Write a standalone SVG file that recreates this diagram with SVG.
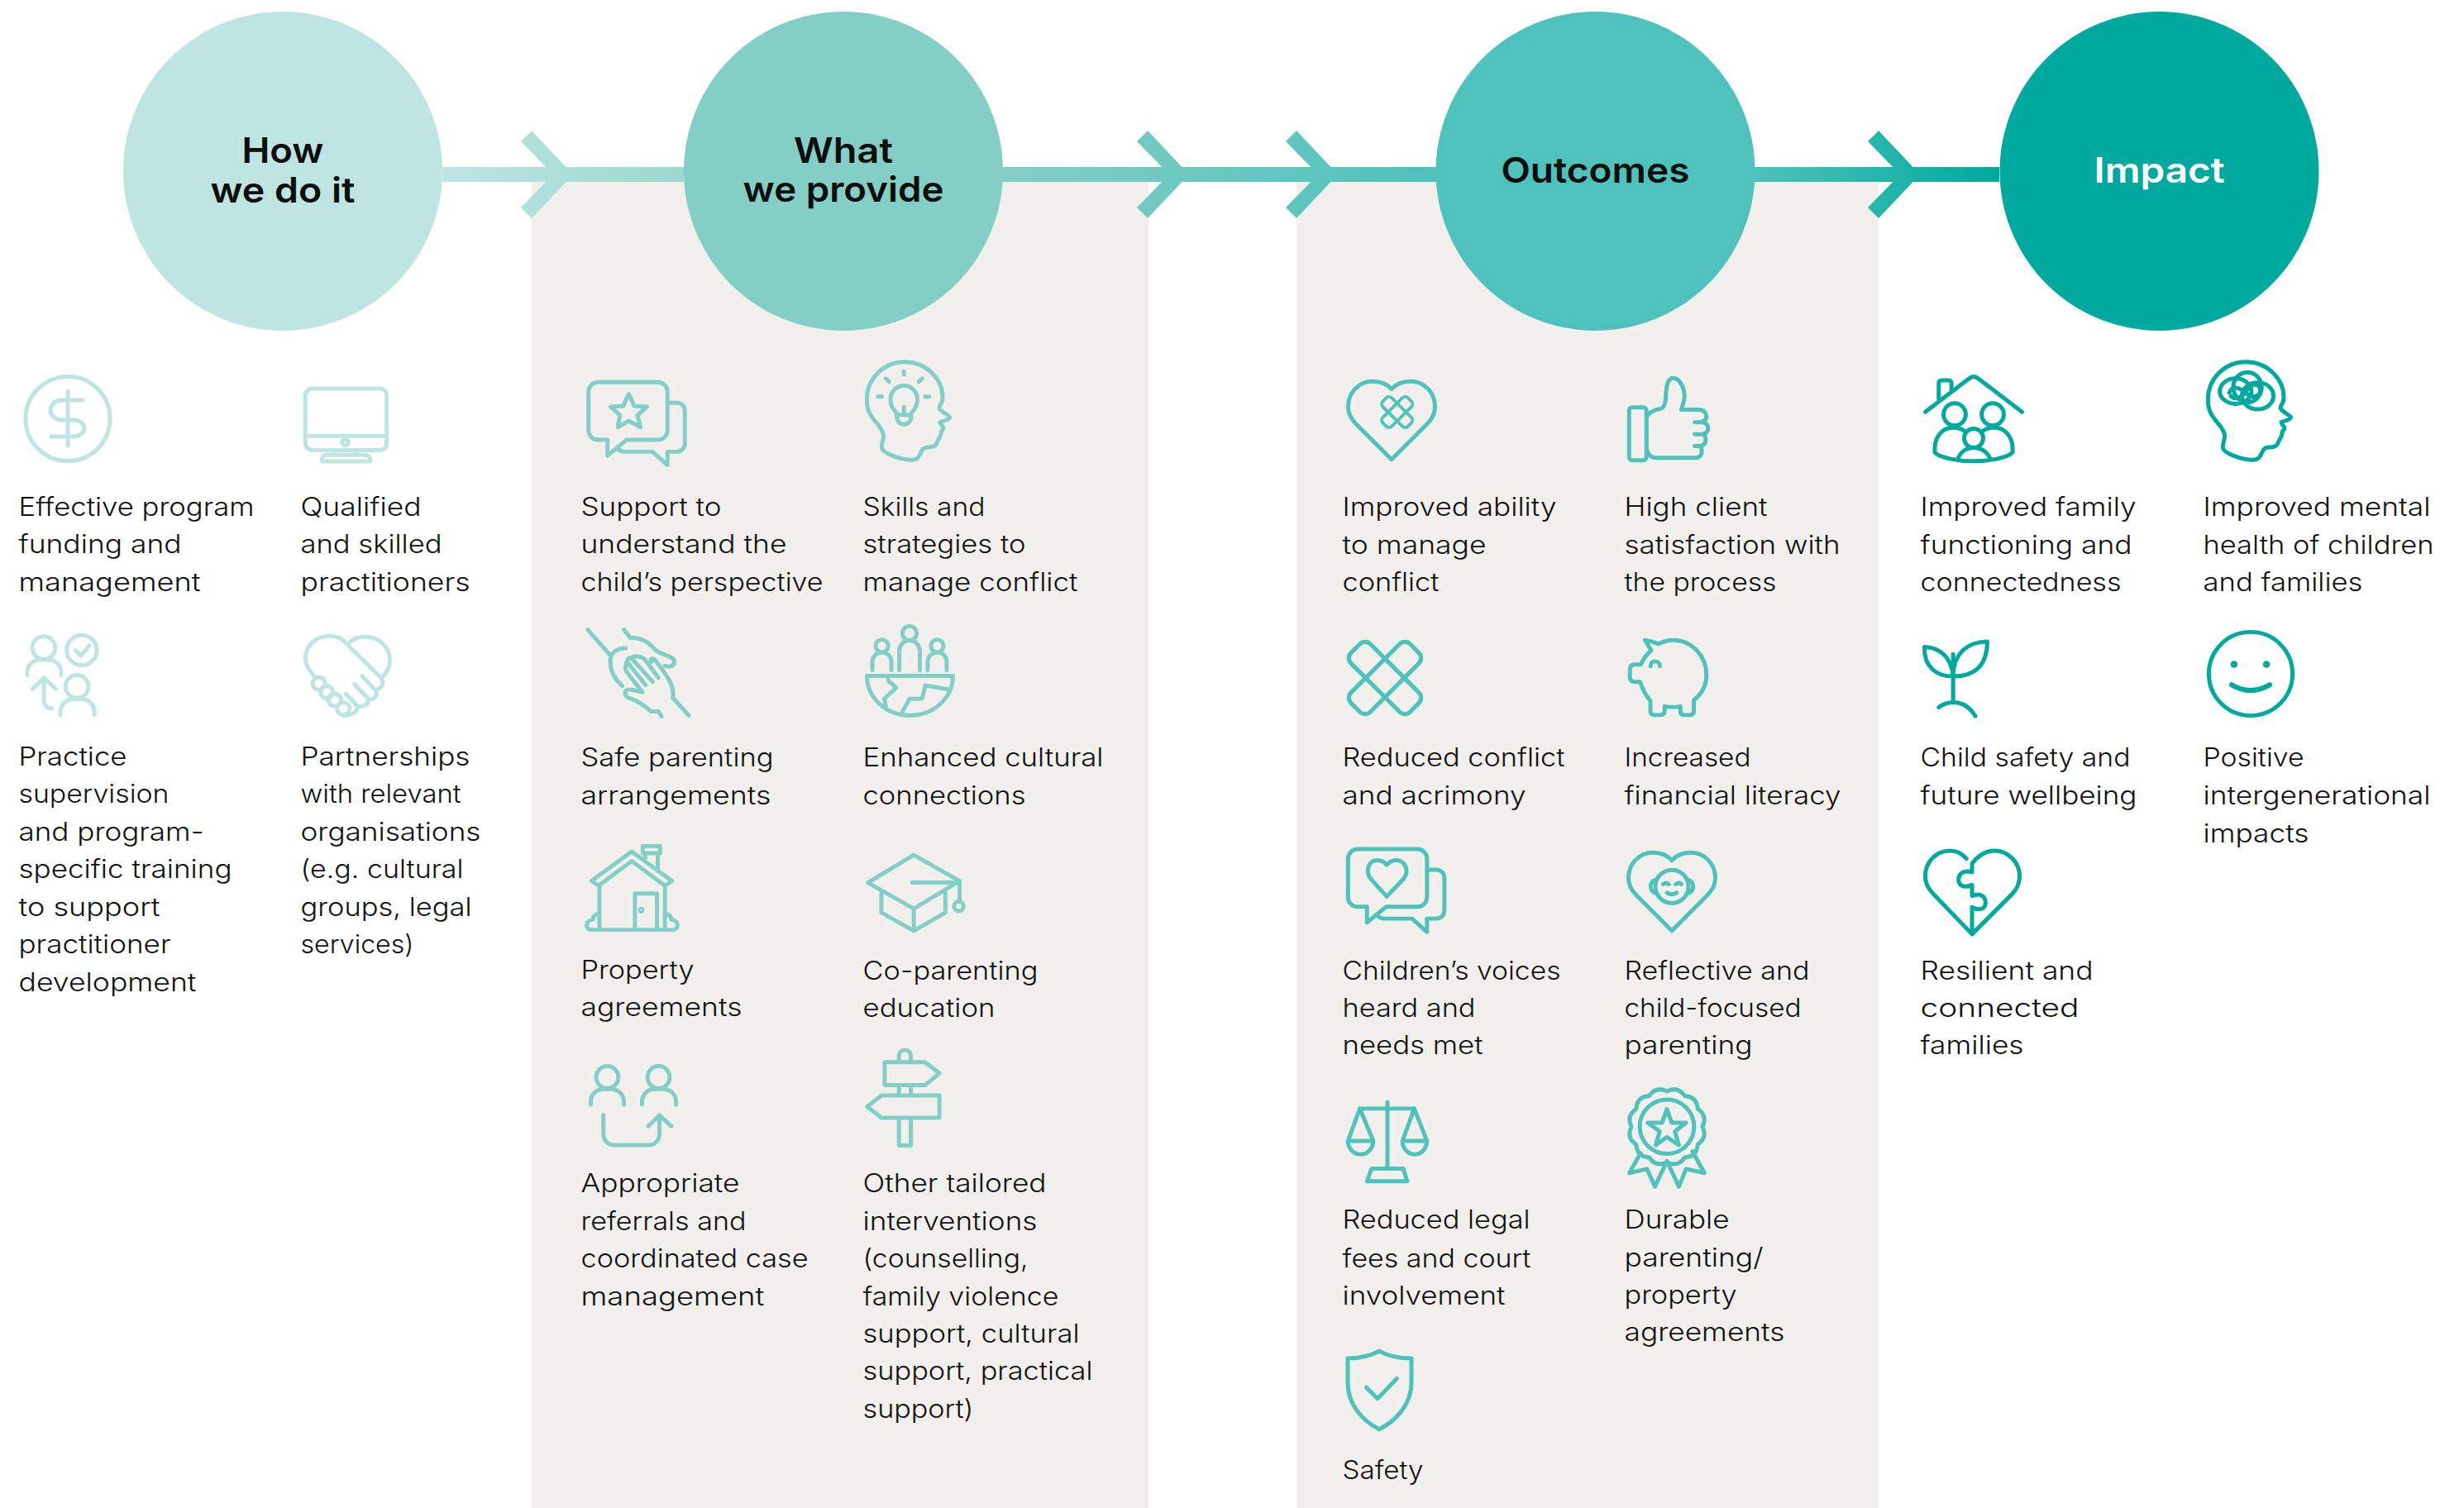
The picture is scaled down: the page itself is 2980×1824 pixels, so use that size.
<svg xmlns="http://www.w3.org/2000/svg" xmlns:xlink="http://www.w3.org/1999/xlink" width="2980" height="1824" viewBox="0 0 2980 1824">
<style>
.t{font-family:Inter,"Liberation Sans",sans-serif;font-size:31px;font-weight:300;fill:#111;stroke:none;transform:translate(-1.5px,1.5px)}
.h{font-family:Inter,"Liberation Sans",sans-serif;font-size:42.5px;font-weight:600;fill:#0d0d0d;text-anchor:middle}
.ic{fill:none;stroke-width:5.2;stroke-linecap:round;stroke-linejoin:round}
.i1{stroke:#BEE5E1}.i2{stroke:#83CEC5}.i3{stroke:#4EC2BB}.i4{stroke:#00A99D}
.panel{fill:#F2F0ED}
</style>
<defs>
<linearGradient id="g1" gradientUnits="userSpaceOnUse" x1="535" y1="0" x2="827" y2="0"><stop offset="0" stop-color="#BEE5E1"/><stop offset="1" stop-color="#9BD8D1"/></linearGradient>
<linearGradient id="g2" gradientUnits="userSpaceOnUse" x1="1212" y1="0" x2="1737" y2="0"><stop offset="0" stop-color="#83CEC5"/><stop offset="1" stop-color="#4EC2BB"/></linearGradient>
<linearGradient id="g3" gradientUnits="userSpaceOnUse" x1="2122" y1="0" x2="2418" y2="0"><stop offset="0" stop-color="#4EC2BB"/><stop offset="1" stop-color="#00A99D"/></linearGradient>
<path id="head" d="M1067,527 C1064,512 1046,508 1046,483 C1046,456 1067,435 1094,435 C1121,435 1142,456 1142,480 C1142,490 1137,488 1138,494 C1141,499 1151,503 1151,505 C1150,509 1141,510 1139,511 C1138,514 1143,516 1143,519 C1143,522 1139,522 1140,525 C1140,530 1136,533 1134,539 C1131,545 1123,542 1119,544 C1113,546 1115,559 1103,559 C1090,559 1066,551 1065,544 C1064,538 1068,533 1067,527 Z"/>
<path id="heart" d="M1683,469 C1677,462 1668,459 1659,459 C1641,459 1628,474 1628,491 C1628,500 1632,507 1638,513 L1683,558 L1728,513 C1734,507 1738,500 1738,491 C1738,474 1725,459 1707,459 C1698,459 1689,462 1683,469 Z"/>
<path id="chat" d="M721,460 H797 a12,12 0 0 1 12,12 V521 a12,12 0 0 1 -12,12 H757 L733,553 V533 H721 a12,12 0 0 1 -12,-12 V472 a12,12 0 0 1 12,-12 Z M810,486 H821 a10,10 0 0 1 10,10 V538 a10,10 0 0 1 -10,10 H809 V565 L790,548 H755 q-6,0 -9,-4"/>
</defs>

<g id="panels">
<rect class="panel" x="643" y="220" width="746" height="1604"/>
<rect class="panel" x="1568" y="220" width="704" height="1604"/>
</g>

<g id="connectors">
<rect x="535" y="202" width="292" height="18" fill="url(#g1)"/>
<path d="M643,158 L693,211 L643,264 L630,251 L669,211 L630,171 Z" fill="url(#g1)"/>
<rect x="1212" y="202" width="525" height="18" fill="url(#g2)"/>
<path d="M1388,158 L1438,211 L1388,264 L1375,251 L1414,211 L1375,171 Z" fill="url(#g2)"/>
<path d="M1568,158 L1618,211 L1568,264 L1555,251 L1594,211 L1555,171 Z" fill="url(#g2)"/>
<rect x="2122" y="202" width="296" height="18" fill="url(#g3)"/>
<path d="M2272,158 L2322,211 L2272,264 L2259,251 L2298,211 L2259,171 Z" fill="url(#g3)"/>
</g>

<g id="stage-how"><circle cx="342" cy="207" r="193" fill="#BEE5E1"/><text class="h" x="342" y="197" textLength="99" lengthAdjust="spacingAndGlyphs">How</text><text class="h" x="342" y="245" textLength="175" lengthAdjust="spacingAndGlyphs">we do it</text></g>
<g id="stage-what"><circle cx="1020" cy="207" r="193" fill="#83CEC5"/><text class="h" x="1020" y="197" textLength="120" lengthAdjust="spacingAndGlyphs">What</text><text class="h" x="1020" y="244" textLength="243" lengthAdjust="spacingAndGlyphs">we provide</text></g>
<g id="stage-outcomes"><circle cx="1929.500" cy="207" r="193" fill="#4EC2BB"/><text class="h" x="1929.500" y="221" textLength="228" lengthAdjust="spacingAndGlyphs">Outcomes</text></g>
<g id="stage-impact"><circle cx="2611.500" cy="207" r="193" fill="#00A99D"/><text class="h" x="2611.500" y="221" textLength="158" lengthAdjust="spacingAndGlyphs" style="fill:#fff">Impact</text></g>

<!-- how -->
<g id="funding"><g class="ic i1" transform="translate(82 506.500) scale(.955) translate(-82 -506.500)"><circle cx="82" cy="506.500" r="53.500"/><path d="M82,472 V541 M101,483 H74 A14,12.500 0 0 0 74,508 H89 A14,10.500 0 0 1 89,529 H61"/></g>
<text class="t" x="24" y="622" textLength="285" lengthAdjust="spacingAndGlyphs">Effective program</text><text class="t" x="24" y="667" textLength="197" lengthAdjust="spacingAndGlyphs">funding and</text><text class="t" x="24" y="713" textLength="220" lengthAdjust="spacingAndGlyphs">management</text></g>
<g id="qualified"><g class="ic i1" transform="translate(418 514) scale(.955) translate(-418 -514)"><rect x="367" y="468" width="103" height="78" rx="9"/><path d="M367,528 H470 M405,546 l-2,6 M431,546 l2,6 M388,560 v-2 q0,-6 7,-6 h47 q7,0 7,6 v2 z"/><circle cx="417.500" cy="536" r="4"/></g>
<text class="t" x="365" y="622" textLength="146" lengthAdjust="spacingAndGlyphs">Qualified</text><text class="t" x="365" y="667" textLength="171" lengthAdjust="spacingAndGlyphs">and skilled</text><text class="t" x="365" y="713" textLength="205" lengthAdjust="spacingAndGlyphs">practitioners</text></g>
<g id="supervision"><g class="ic i1" transform="translate(74 817) scale(.955) translate(-74 -817)"><circle cx="52" cy="782" r="14.500"/><path d="M31,817 v-4 a16,16 0 0 1 16,-16 h11 a16,16 0 0 1 16,16 v4"/><circle cx="100" cy="785" r="19"/><path d="M92,785 l7,7 l11,-13 M62,859 a10,10 0 0 1 -10,-10 V821 M38,834 L52,820 L67,834"/><circle cx="94" cy="831" r="14.500"/><path d="M73,867 v-4 a16,16 0 0 1 16,-16 h11 a16,16 0 0 1 16,16 v4"/></g>
<text class="t" x="24" y="924" textLength="131" lengthAdjust="spacingAndGlyphs">Practice</text><text class="t" x="24" y="969.500" textLength="182" lengthAdjust="spacingAndGlyphs">supervision</text><text class="t" x="24" y="1015" textLength="224" lengthAdjust="spacingAndGlyphs">and program-</text><text class="t" x="24" y="1060" textLength="258" lengthAdjust="spacingAndGlyphs">specific training</text><text class="t" x="24" y="1106" textLength="171" lengthAdjust="spacingAndGlyphs">to support</text><text class="t" x="24" y="1151" textLength="184" lengthAdjust="spacingAndGlyphs">practitioner</text><text class="t" x="24" y="1197" textLength="215" lengthAdjust="spacingAndGlyphs">development</text></g>
<g id="partnerships"><g class="ic i1" transform="translate(420 817) scale(.955) translate(-420 -817)"><path d="M378,818 C370,808 367,803 367,795 C367,778 381,767 398,767 C408,767 415,771 420,778 L463,820 M423,775 C428,770 435,768 443,768 C460,768 474,781 474,798 C474,806 470,814 463,820 M463,820 c4,5 2,13 -7,16 M456,836 c3,7 -2,12 -10,11 M446,846 c2,6 -3,11 -13,10 M433,856 c1,5 -6,11 -17,12 M439,818 L456,836 M429,828 L446,846 M418,840 L433,856"/><circle cx="384" cy="827" r="8"/><circle cx="394" cy="838" r="8"/><circle cx="404" cy="848" r="8"/><circle cx="415" cy="859" r="8"/></g>
<text class="t" x="365" y="924" textLength="205" lengthAdjust="spacingAndGlyphs">Partnerships</text><text class="t" x="365" y="969.500" textLength="194" lengthAdjust="spacingAndGlyphs">with relevant</text><text class="t" x="365" y="1015" textLength="218" lengthAdjust="spacingAndGlyphs">organisations</text><text class="t" x="365" y="1060" textLength="197" lengthAdjust="spacingAndGlyphs">(e.g. cultural</text><text class="t" x="365" y="1106" textLength="207" lengthAdjust="spacingAndGlyphs">groups, legal</text><text class="t" x="365" y="1151" textLength="137" lengthAdjust="spacingAndGlyphs">services)</text></g>

<!-- what -->
<g id="support"><g class="ic i2" transform="translate(770 512) scale(.955) translate(-770 -512)"><use href="#chat"/><path d="M760,475 L767,490 L783,491 L771,502 L775,517 L760,509 L746,517 L749,502 L737,491 L753,490 Z"/></g>
<text class="t" x="704" y="622" textLength="170" lengthAdjust="spacingAndGlyphs">Support to</text><text class="t" x="704" y="667" textLength="249" lengthAdjust="spacingAndGlyphs">understand the</text><text class="t" x="704" y="713" textLength="293" lengthAdjust="spacingAndGlyphs">child’s perspective</text></g>
<g id="skills"><g class="ic i2" transform="translate(1098 497) scale(.955) translate(-1098 -497)"><use href="#head"/><path d="M1085,502 C1080,495 1076,492 1076,482 a17,17 0 0 1 34,0 c0,10 -4,13 -9,20 z M1084,502 v3 a9,9 0 0 0 18,0 v-3 M1093,492 v10 M1093,447 v4 M1070,456 l4,4 M1116,456 l-4,4 M1060,479 h5 M1120,479 h5"/></g>
<text class="t" x="1045" y="622" textLength="148" lengthAdjust="spacingAndGlyphs">Skills and</text><text class="t" x="1045" y="667" textLength="197" lengthAdjust="spacingAndGlyphs">strategies to</text><text class="t" x="1045" y="713" textLength="260" lengthAdjust="spacingAndGlyphs">manage conflict</text></g>
<g id="safe-parenting"><g class="ic i2" transform="translate(772 814) scale(.97) translate(-772 -814)"><path d="M709,760 L737,792 M756,783 C746,783 737,788 737,800 C737,812 743,822 752,830 M754,760 L762,770 C775,770 783,774 793,785 C800,792 817,792 817,800 C817,806 810,807 805,805 M835,867 L815,845 C817,830 810,820 793,798 C790,795 786,796 788,800 M780,797 L797,820 M763,795 L790,825 M758,800 L781,829 M757,812 L777,838 C770,836 763,834 758,835 C754,838 755,843 760,845 C770,848 778,853 788,862 H797 L801,868 M758,800 C755,805 755,808 757,812 M763,795 C760,795 758,797 758,800 M780,797 C776,793 768,792 763,795"/></g>
<text class="t" x="704" y="925" textLength="233" lengthAdjust="spacingAndGlyphs">Safe parenting</text><text class="t" x="704" y="971" textLength="230" lengthAdjust="spacingAndGlyphs">arrangements</text></g>
<g id="cultural"><g class="ic i2" transform="translate(1100 808) scale(.955) translate(-1100 -808)"><path d="M1046,818 H1155 A54.500,50 0 0 1 1046,818 Z M1073,822 Q1073,826 1077,827 L1083,833 L1068,847 L1070,857 M1090,865 L1100,847 H1113 Q1117,847 1117,843 L1120,830 L1148,835"/><circle cx="1100" cy="764" r="9"/><path d="M1087,811 V786 a13,13 0 0 1 26,0 V811"/><circle cx="1065" cy="780" r="8"/><path d="M1053,811 V800 a12,12 0 0 1 24,0 V811"/><circle cx="1135" cy="780" r="8"/><path d="M1123,811 V800 a12,12 0 0 1 24,0 V811"/></g>
<text class="t" x="1045" y="925" textLength="291" lengthAdjust="spacingAndGlyphs">Enhanced cultural</text><text class="t" x="1045" y="971" textLength="197" lengthAdjust="spacingAndGlyphs">connections</text></g>
<g id="property"><g class="ic i2" transform="translate(764 1074) scale(.955) translate(-764 -1074)"><path d="M764,1028 L815,1065 L806,1071 L764,1040 L722,1071 L713,1065 Z M723,1071 V1126 M806,1071 V1126 M768,1126 V1081 H796 V1126 M781,1038 V1030 M797,1050 V1030 M778,1021 H800 V1030 H778 Z M722,1107 q-7,1 -7,7 q-8,2 -8,7 q0,6 8,6 H814 q8,0 8,-6 q0,-5 -8,-7 q0,-6 -7,-7"/><circle cx="776" cy="1102" r="1.500"/></g>
<text class="t" x="704" y="1182" textLength="137" lengthAdjust="spacingAndGlyphs">Property</text><text class="t" x="704" y="1227" textLength="195" lengthAdjust="spacingAndGlyphs">agreements</text></g>
<g id="co-parenting"><g class="ic i2" transform="translate(1108 1080) scale(.955) translate(-1108 -1080)"><path d="M1105,1032 L1163,1065 L1105,1100 L1047,1067 Z M1064,1080 V1105 L1105,1128 L1145,1105 V1080 M1105,1100 V1128 M1103,1067 H1163 V1089"/><circle cx="1162" cy="1097" r="6"/></g>
<text class="t" x="1045" y="1183" textLength="212" lengthAdjust="spacingAndGlyphs">Co-parenting</text><text class="t" x="1045" y="1228" textLength="160" lengthAdjust="spacingAndGlyphs">education</text></g>
<g id="referrals"><g class="ic i2" transform="translate(766 1344) scale(.955) translate(-766 -1344)"><circle cx="733" cy="1301" r="14"/><circle cx="798" cy="1301" r="14"/><path d="M712,1336 v-4 a16,16 0 0 1 16,-16 h10 a16,16 0 0 1 16,16 v4 M777,1336 v-4 a16,16 0 0 1 16,-16 h11 a16,16 0 0 1 16,16 v4 M728,1349 V1373 a14,14 0 0 0 14,14 H785 a14,14 0 0 0 14,-14 V1349 M785,1363 L799,1349 L814,1363"/></g>
<text class="t" x="704" y="1440" textLength="192" lengthAdjust="spacingAndGlyphs">Appropriate</text><text class="t" x="704" y="1486" textLength="200" lengthAdjust="spacingAndGlyphs">referrals and</text><text class="t" x="704" y="1531" textLength="275" lengthAdjust="spacingAndGlyphs">coordinated case</text><text class="t" x="704" y="1577" textLength="222" lengthAdjust="spacingAndGlyphs">management</text></g>
<g id="other"><g class="ic i2" transform="translate(1092 1327) scale(.96) translate(-1092 -1327)"><path d="M1087,1283 V1275 a7.500,7.500 0 0 1 15,0 V1283 M1087,1312 V1325 M1102,1312 V1325 M1087,1353 V1388 H1102 V1353 M1069,1283 H1120 L1138,1297 L1120,1312 H1069 Z M1138,1325 H1065 L1047,1339 L1065,1353 H1138 Z"/></g>
<text class="t" x="1045" y="1440" textLength="222" lengthAdjust="spacingAndGlyphs">Other tailored</text><text class="t" x="1045" y="1486" textLength="211" lengthAdjust="spacingAndGlyphs">interventions</text><text class="t" x="1045" y="1531" textLength="200" lengthAdjust="spacingAndGlyphs">(counselling,</text><text class="t" x="1045" y="1577" textLength="237" lengthAdjust="spacingAndGlyphs">family violence</text><text class="t" x="1045" y="1622" textLength="262" lengthAdjust="spacingAndGlyphs">support, cultural</text><text class="t" x="1045" y="1667" textLength="278" lengthAdjust="spacingAndGlyphs">support, practical</text><text class="t" x="1045" y="1713" textLength="134" lengthAdjust="spacingAndGlyphs">support)</text></g>

<!-- outcomes -->
<g id="ability"><g class="ic i3" transform="translate(1683 508) scale(.955) translate(-1683 -508)"><use href="#heart"/><g transform="translate(1690,498) rotate(45)" stroke-width="4"><rect x="-22.500" y="-8" width="45" height="16" rx="5"/><rect x="-8" y="-22.500" width="16" height="45" rx="5"/></g></g>
<text class="t" x="1625" y="622" textLength="259" lengthAdjust="spacingAndGlyphs">Improved ability</text><text class="t" x="1625" y="668" textLength="174" lengthAdjust="spacingAndGlyphs">to manage</text><text class="t" x="1625" y="713" textLength="117" lengthAdjust="spacingAndGlyphs">conflict</text></g>
<g id="satisfaction"><g class="ic i3" transform="translate(2018 507) scale(.955) translate(-2018 -507)"><rect x="1968" y="492" width="22" height="67" rx="4"/><path d="M1991,503 C1995,497 2001,495 2007,494 C2016,492 2014,478 2015,470 C2016,461 2019,455 2024,455 C2031,455 2037,465 2038,475 C2039,483 2036,488 2034,495 H2057 C2063,495 2066,500 2066,504 C2066,508 2062,511 2051,511 H2060 C2066,511 2068,515 2068,519 C2068,523 2064,526 2060,526 H2051 M2060,526 C2064,526 2065,530 2065,533 C2065,538 2062,541 2057,541 H2051 M2057,541 C2060,542 2060,545 2060,548 C2060,553 2057,556 2052,556 H2003 C1997,556 1993,553 1991,547"/></g>
<text class="t" x="1966" y="622" textLength="173" lengthAdjust="spacingAndGlyphs">High client</text><text class="t" x="1966" y="668" textLength="261" lengthAdjust="spacingAndGlyphs">satisfaction with</text><text class="t" x="1966" y="713" textLength="184" lengthAdjust="spacingAndGlyphs">the process</text></g>
<g id="reduced-conflict"><g class="ic i3"><g transform="translate(1675,820) rotate(45)"><rect x="-50.500" y="-16.500" width="101" height="33" rx="9"/><rect x="-16.500" y="-50.500" width="33" height="101" rx="9"/></g></g>
<text class="t" x="1625" y="925" textLength="269" lengthAdjust="spacingAndGlyphs">Reduced conflict</text><text class="t" x="1625" y="971" textLength="222" lengthAdjust="spacingAndGlyphs">and acrimony</text></g>
<g id="financial"><g class="ic i3" transform="translate(2018 820) scale(.955) translate(-2018 -820)"><path d="M2005,777 C2011,774 2017,772 2023,772 C2047,772 2066,792 2066,816 C2066,829 2060,840 2050,848 V862 Q2050,867 2045,867 H2038 Q2033,867 2033,862 V856 Q2023,858 2013,856 V862 Q2013,867 2008,867 H2000 Q1995,867 1995,862 V849 C1990,843 1985,835 1982,825 H1975 Q1969,825 1969,818 V810 Q1969,803 1975,803 H1983 C1986,796 1990,790 1996,785 L1988,772 Q1997,773 2005,777 Z M1995,805 a6,6 0 0 1 12,0"/></g>
<text class="t" x="1966" y="925" textLength="153" lengthAdjust="spacingAndGlyphs">Increased</text><text class="t" x="1966" y="971" textLength="262" lengthAdjust="spacingAndGlyphs">financial literacy</text></g>
<g id="voices"><g class="ic i3" transform="translate(1680 1071) scale(.955) translate(-1680 -1071)"><use href="#chat" transform="translate(919,565)"/><path d="M1677,1045 C1674,1041 1669,1039 1665,1039 C1657,1039 1653,1046 1653,1053 C1653,1057 1655,1061 1658,1064 L1677,1085 L1697,1064 C1700,1061 1702,1057 1702,1053 C1702,1046 1697,1039 1689,1039 C1685,1039 1680,1041 1677,1045 Z"/></g>
<text class="t" x="1625" y="1183" textLength="264" lengthAdjust="spacingAndGlyphs">Children’s voices</text><text class="t" x="1625" y="1228" textLength="161" lengthAdjust="spacingAndGlyphs">heard and</text><text class="t" x="1625" y="1273" textLength="170" lengthAdjust="spacingAndGlyphs">needs met</text></g>
<g id="reflective"><g class="ic i3" transform="translate(2022 1078) scale(.955) translate(-2022 -1078)"><use href="#heart" transform="translate(339,570)"/><circle cx="2022" cy="1072" r="21"/><path d="M2003,1063 q-8,2 -8,9 q0,7 8,9 M2041,1063 q8,2 8,9 q0,7 -8,9 M2011,1069 q4,-3 7,0 M2027,1069 q4,-3 7,0 M2016,1080 q6,4 12,0"/></g>
<text class="t" x="1966" y="1183" textLength="224" lengthAdjust="spacingAndGlyphs">Reflective and</text><text class="t" x="1966" y="1228" textLength="214" lengthAdjust="spacingAndGlyphs">child-focused</text><text class="t" x="1966" y="1273" textLength="155" lengthAdjust="spacingAndGlyphs">parenting</text></g>
<g id="legal"><g class="ic i3" transform="translate(1678 1381) scale(.955) translate(-1678 -1381)"><path d="M1678,1331 V1415 M1643,1339 H1712 M1643,1339 L1628,1380 M1643,1339 L1660,1380 M1628,1380 H1660 A16,17 0 0 1 1628,1380 Z M1712,1339 L1697,1380 M1712,1339 L1728,1380 M1697,1380 H1728 A15.500,17 0 0 1 1697,1380 Z M1658,1415 H1698 L1703,1431 H1652 Z"/></g>
<text class="t" x="1625" y="1484" textLength="227" lengthAdjust="spacingAndGlyphs">Reduced legal</text><text class="t" x="1625" y="1531" textLength="228" lengthAdjust="spacingAndGlyphs">fees and court</text><text class="t" x="1625" y="1576" textLength="197" lengthAdjust="spacingAndGlyphs">involvement</text></g>
<g id="durable"><g class="ic i3" transform="translate(2016 1384) scale(.965) translate(-2016 -1384)"><path transform="translate(2016,1362) rotate(15)" d="M43,11.500 Q46,26.500 31.500,31.500 Q26.500,46 11.500,43 Q0,53 -11.500,43 Q-26.500,46 -31.500,31.500 Q-46,26.500 -43,11.500 Q-53,0 -43,-11.500 Q-46,-26.500 -31.500,-31.500 Q-26.500,-46 -11.500,-43 Q0,-53 11.500,-43 Q26.500,-46 31.500,-31.500 Q46,-26.500 43,-11.500 Q53,0 43,11.500 Z"/><circle cx="2016" cy="1362" r="34"/><path d="M2016,1340 L2022,1357 L2040,1357 L2026,1368 L2031,1385 L2016,1375 L2002,1385 L2007,1368 L1992,1357 L2010,1357 Z M1983,1395 L1969,1420 L1991,1415 L2001,1437 L2016,1405 L2031,1437 L2040,1415 L2063,1420 L2048,1393"/></g>
<text class="t" x="1966" y="1484" textLength="127" lengthAdjust="spacingAndGlyphs">Durable</text><text class="t" x="1966" y="1530" textLength="168" lengthAdjust="spacingAndGlyphs">parenting/</text><text class="t" x="1966" y="1575" textLength="136" lengthAdjust="spacingAndGlyphs">property</text><text class="t" x="1966" y="1620" textLength="194" lengthAdjust="spacingAndGlyphs">agreements</text></g>
<g id="safety"><g class="ic i3" transform="translate(1668 1681) scale(.975) translate(-1668 -1681)"><path d="M1668,1633 C1655,1640 1642,1642 1629,1642 V1672 C1629,1700 1648,1720 1668,1730 C1688,1720 1708,1700 1708,1672 V1642 C1695,1642 1681,1640 1668,1633 Z M1652,1678 L1666,1692 L1690,1667"/></g>
<text class="t" x="1625" y="1787" textLength="98" lengthAdjust="spacingAndGlyphs">Safety</text></g>

<!-- impact -->
<g id="family"><g class="ic i4" transform="translate(2387 506) scale(.96) translate(-2387 -506)"><path d="M2326,498 L2381,456 Q2387,451 2393,456 L2448,498 M2343,482 V462 Q2343,458 2347,458 H2355 Q2359,458 2359,462 V470"/><circle cx="2363" cy="501" r="14"/><circle cx="2411" cy="501" r="14"/><circle cx="2387" cy="531" r="12"/><path d="M2358,518 C2347,519 2338,530 2338,544 V549 C2345,556 2368,560 2387,560 C2406,560 2429,556 2436,549 V544 C2436,530 2427,519 2416,518 M2358,518 C2365,517 2372,519 2377,523 M2416,518 C2409,517 2402,519 2397,523 M2368,555 C2371,548 2378,543 2387,543 C2396,543 2403,548 2407,555"/></g>
<text class="t" x="2324" y="622" textLength="261" lengthAdjust="spacingAndGlyphs">Improved family</text><text class="t" x="2324" y="668" textLength="256" lengthAdjust="spacingAndGlyphs">functioning and</text><text class="t" x="2324" y="713" textLength="243" lengthAdjust="spacingAndGlyphs">connectedness</text></g>
<g id="mental"><g class="ic i4" transform="translate(2720 497) scale(.955) translate(-2720 -497)"><use href="#head" transform="translate(1622,0)"/><ellipse cx="2703" cy="472" rx="20" ry="16"/><ellipse cx="2718" cy="467" rx="18" ry="19"/><ellipse cx="2731" cy="478" rx="20" ry="17"/><path d="M2695,474 C2700,462 2712,470 2718,476 C2724,482 2736,478 2734,469 C2732,460 2722,464 2718,470 C2712,480 2702,484 2697,478"/></g>
<text class="t" x="2666" y="622" textLength="275" lengthAdjust="spacingAndGlyphs">Improved mental</text><text class="t" x="2666" y="668" textLength="279" lengthAdjust="spacingAndGlyphs">health of children</text><text class="t" x="2666" y="713" textLength="193" lengthAdjust="spacingAndGlyphs">and families</text></g>
<g id="child-safety"><g class="ic i4" transform="translate(2365 821) scale(.96) translate(-2365 -821)"><path d="M2326,781 C2345,782 2360,793 2362,818 C2340,818 2325,805 2326,781 Z M2362,818 C2385,818 2405,808 2405,774 C2380,775 2364,788 2362,815 M2362,790 V850 M2344,857 C2358,847 2378,848 2390,868"/></g>
<text class="t" x="2324" y="925" textLength="254" lengthAdjust="spacingAndGlyphs">Child safety and</text><text class="t" x="2324" y="971" textLength="262" lengthAdjust="spacingAndGlyphs">future wellbeing</text></g>
<g id="intergenerational"><g class="ic i4" transform="translate(2722 815) scale(.955) translate(-2722 -815)"><circle cx="2722" cy="815" r="53"/><circle cx="2701" cy="803" r="2" stroke-width="5"/><circle cx="2742" cy="803" r="2" stroke-width="5"/><path d="M2698,829 Q2722,843 2746,829" stroke-width="6.500"/></g>
<text class="t" x="2666" y="925" textLength="122" lengthAdjust="spacingAndGlyphs">Positive</text><text class="t" x="2666" y="971" textLength="275" lengthAdjust="spacingAndGlyphs">intergenerational</text><text class="t" x="2666" y="1017" textLength="128" lengthAdjust="spacingAndGlyphs">impacts</text></g>
<g id="resilient"><g class="ic i4" transform="translate(2385 1079) scale(.96) translate(-2385 -1079)"><path d="M2378,1037 C2372,1030 2365,1027 2357,1027 C2339,1027 2326,1042 2326,1059 C2326,1068 2330,1075 2336,1081 L2385,1132 L2435,1082 C2441,1076 2445,1068 2445,1059 C2445,1042 2431,1027 2413,1027 C2403,1027 2393,1033 2385,1043 V1054 C2372,1050 2368,1058 2368,1063 C2368,1070 2374,1075 2385,1070 V1084 C2396,1079 2402,1085 2402,1092 C2402,1099 2396,1104 2385,1098 V1132"/></g>
<text class="t" x="2324" y="1183" textLength="209" lengthAdjust="spacingAndGlyphs">Resilient and</text><text class="t" x="2324" y="1228" textLength="192" lengthAdjust="spacingAndGlyphs">connected</text><text class="t" x="2324" y="1273" textLength="125" lengthAdjust="spacingAndGlyphs">families</text></g>
</svg>
